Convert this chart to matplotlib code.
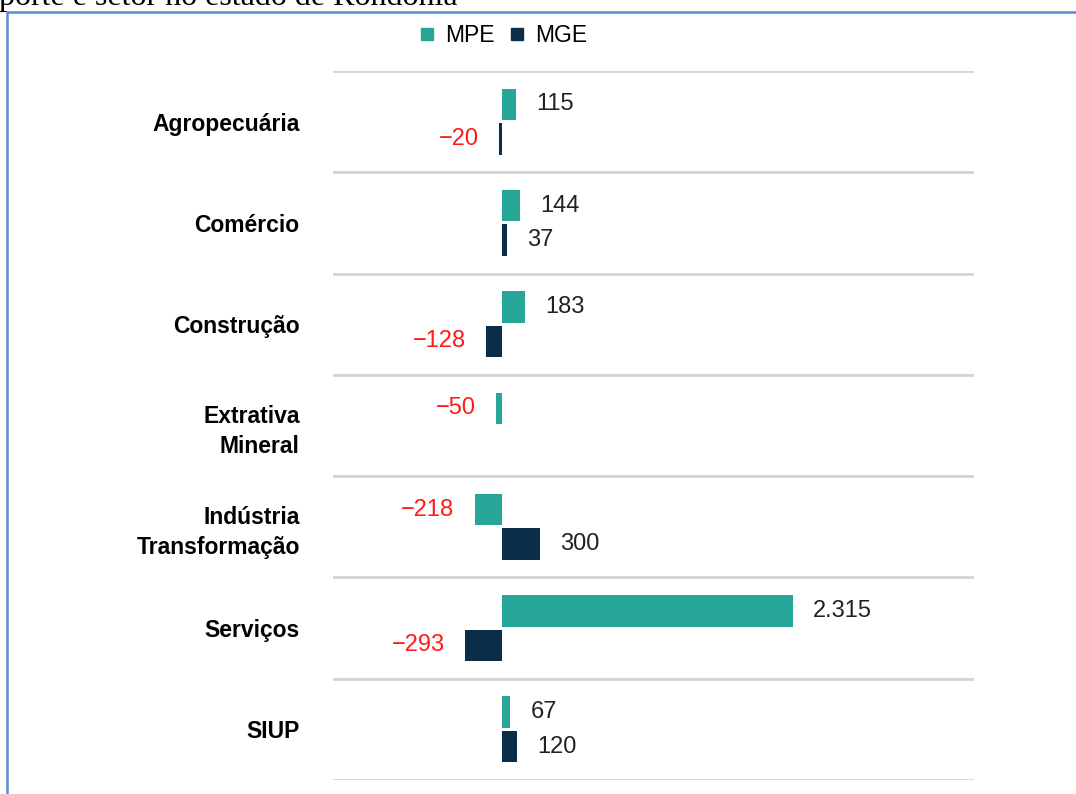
import matplotlib.pyplot as plt
from matplotlib.lines import Line2D
from matplotlib.patches import Rectangle
from matplotlib import font_manager

setores = ['Agropecuária', 'Comércio', 'Construção', 'Extrativa\nMineral',
           'Indústria\nTransformação', 'Serviços', 'SIUP']
mpe = [115, 144, 183, -50, -218, 2315, 67]
mge = [-20, 37, -128, None, 300, -293, 120]

cor_mpe = '#27a698'
cor_mge = '#0b2d48'

# fonte estreita se existir
nomes = {f.name for f in font_manager.fontManager.ttflist}
fonte = 'Liberation Sans Narrow' if 'Liberation Sans Narrow' in nomes else 'Liberation Sans'
plt.rcParams['font.family'] = [fonte, 'DejaVu Sans']

fig = plt.figure(figsize=(10.76, 7.94), dpi=100)
ax = fig.add_axes([0.3095, 0.0176, 0.5957, 0.893])

def fmt(v):
    s = f'{abs(v):,}'.replace(',', '.')
    return ('\u2212' + s) if v < 0 else s

h = 0.31
off = 0.17
for i in range(len(setores)):
    for v, dy, cor in [(mpe[i], -off, cor_mpe), (mge[i], off, cor_mge)]:
        if v is None:
            continue
        ax.barh(i + dy, v, height=h, color=cor, edgecolor='none')
        if v >= 0:
            ax.annotate(fmt(v), (v, i + dy), xytext=(14.5, 0), textcoords='offset points',
                        ha='left', va='center', fontsize=17, color='#222222')
        else:
            ax.annotate(fmt(v), (v, i + dy), xytext=(-14.5, 0), textcoords='offset points',
                        ha='right', va='center', fontsize=17, color='#ff1a1a')

for k in range(len(setores) + 1):
    ax.axhline(k - 0.5, color='#d4d4d4', lw=2, zorder=0)

ax.set_ylim(len(setores) - 0.5, -0.5)
ax.set_xlim(-1344, 3755)
ax.set_yticks(range(len(setores)))
ax.set_yticklabels(setores, fontsize=16.5, fontweight='bold', linespacing=1.4)
ax.tick_params(axis='y', length=0, pad=24)
ax.set_xticks([])
for s in ax.spines.values():
    s.set_visible(False)

handles = [Line2D([], [], marker='s', ls='none', color=cor_mpe, markersize=8),
           Line2D([], [], marker='s', ls='none', color=cor_mge, markersize=8)]
fig.legend(handles, ['MPE', 'MGE'], loc='center', bbox_to_anchor=(0.466, 0.955), ncol=2,
           frameon=False, fontsize=16.5, handletextpad=0.3, columnspacing=0.5, handlelength=1)

# moldura azul e texto cortado no topo
fig.patches.append(Rectangle((0.0065, -0.1), 1.2, 1.0853, transform=fig.transFigure,
                             fill=False, edgecolor='#5b8bd0', lw=1.8))
fig.text(-0.001, 1 - 4.5 / 794, 'porte e setor no estado de Rondônia', fontsize=23,
         family=['Liberation Serif', 'DejaVu Serif'], va='baseline', ha='left', color='black')

fig.savefig('out.png', dpi=100)
